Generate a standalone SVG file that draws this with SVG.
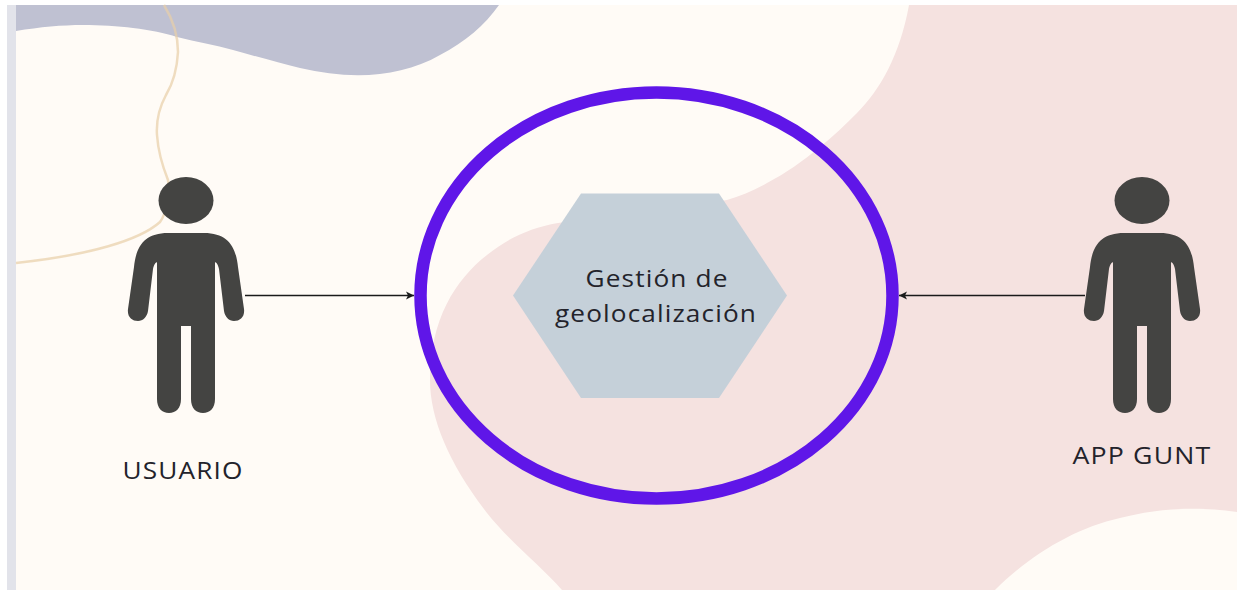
<svg xmlns="http://www.w3.org/2000/svg" width="1237" height="590" viewBox="0 0 1237 590">
<style>
.person{fill:#444442}
.lbl{font-family:"Open Sans","Liberation Sans",sans-serif;font-size:23px;letter-spacing:1px;fill:#23232b;text-anchor:middle}
.conn{stroke:#1a1a1a;stroke-width:1.4;fill:none;marker-end:url(#ah)}
</style>
<defs>
<marker id="ah" markerUnits="userSpaceOnUse" markerWidth="9" markerHeight="10" refX="8" refY="5" orient="auto"><path d="M0 1L8 5L0 9L2 5Z" fill="#1a1a1a"/></marker>
<g id="fig">
<ellipse cx="0" cy="23.500" rx="27.500" ry="23.500"/>
<path d="M-18 56C-42 56-50 70-52 90L-58 132C-59 140-54 144-48 144C-43 144-39 140-38 134L-33 92C-32 87-29 84-29 86V222C-29 231-24 236-17 236C-10 236-5 231-5 222V149H5V222C5 231 10 236 17 236C24 236 29 231 29 222V86C29 84 32 87 33 92L38 134C39 140 43 144 48 144C54 144 59 140 58 132L52 90C50 70 42 56 18 56Z"/>
</g>
</defs>
<rect width="1237" height="590" fill="#fff"/>
<rect x="7" y="5" width="1230" height="585" fill="#fffbf6"/>
<rect x="7" y="5" width="9" height="585" fill="#e2e3ea"/>
<g id="background">
<path d="M16 31C40 27 62 25 83 25C100 25 118 26 133 28C150 30 165 33 177 37C197 42 215 45 233 50C258 57 280 63 300 68C350 80 400 78 440 55C465 42 485 25 499 5H16Z" fill="#bfc1d2"/>
<path d="M909 5C900 55 880 90 857 113C835 135 805 163 767 183C755 190 740 196 727 200L640 212L558 223C530 228 508 238 487 255C455 280 430 320 430 380C430 420 450 465 487 513C510 542 540 565 562 590H995C1030 555 1075 528 1120 518C1150 510 1190 505 1237 512V5Z" fill="#f5e2e0"/>
<path d="M164 5C172 18 178 35 178 52C177 70 172 85 166 95C159 108 156 120 157 135C158 150 162 165 168 180C170 195 167 212 160 222C140 240 90 255 16 263" fill="none" stroke="#e8cfa8" stroke-opacity=".7" stroke-width="2.500"/>
</g>
<g id="connectors">
<path class="conn" d="M245 295.500H414"/>
<path class="conn" d="M1085 295.500H899"/>
</g>
<g id="usuario"><use href="#fig" x="186" y="177" class="person"/><text class="lbl" x="183" y="479" textLength="121" lengthAdjust="spacingAndGlyphs">USUARIO</text></g>
<g id="app-gunt"><use href="#fig" x="1142" y="177" class="person"/><text class="lbl" x="1142" y="464" textLength="139" lengthAdjust="spacingAndGlyphs">APP GUNT</text></g>
<g id="limite"><ellipse cx="656.500" cy="295.500" rx="236" ry="203" fill="none" stroke="#5f16e8" stroke-width="12.500"/></g>
<g id="gestion">
<path d="M513 295.500L581 193.500H719L787 295.500L719 398H581Z" fill="#c5d0d9"/>
<text class="lbl" x="657" y="287" textLength="143" lengthAdjust="spacingAndGlyphs">Gestión de</text>
<text class="lbl" x="656" y="322" textLength="202" lengthAdjust="spacingAndGlyphs">geolocalización</text>
</g>
</svg>
